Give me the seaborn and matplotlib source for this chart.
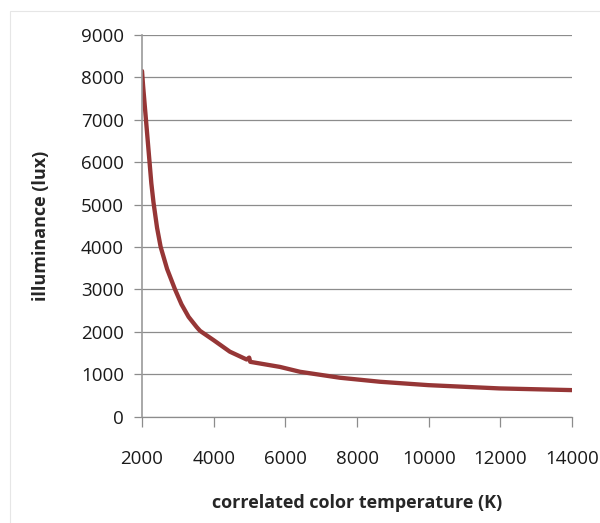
import pandas as pd
import matplotlib.pyplot as plt
import seaborn as sns
from matplotlib.patches import Rectangle

# Values
cct_k = [2000, 2030, 2060, 2130, 2200, 2260, 2320, 2420, 2520, 2700, 2920, 3100, 3300, 3525,
         3620, 4000, 4450, 4920, 4990, 5020, 5850, 6410, 7520, 8640, 9990, 11970, 13990]
lux = [8150, 7800, 7500, 6800, 6100, 5500, 5050, 4450, 4000, 3480, 3000, 2650, 2350, 2110,
       2020, 1800, 1530, 1345, 1390, 1290, 1170, 1055, 915, 820, 740, 663, 623]

x_ticks = [2000, 4000, 6000, 8000, 10000, 12000, 14000]
y_ticks = [0, 1000, 2000, 3000, 4000, 5000, 6000, 7000, 8000, 9000]

df = pd.DataFrame({'cct': cct_k, 'lux': lux})

sns.set_style("white")
plt.rcParams['font.family'] = ['Open Sans', 'DejaVu Sans']

fig = plt.figure(figsize=(6, 5.23), dpi=100)
ax = fig.add_axes([0.2367, 0.2036, 0.7167, 0.7295])

# faint chart-area border like Excel
fig.patches.append(Rectangle((10 / 600, -0.01), 1.0, 1 - 11 / 523 + 0.01,
                             transform=fig.transFigure, fill=False,
                             edgecolor='#e6e6e6', linewidth=0.8))

sns.lineplot(data=df, x='cct', y='lux', sort=False, color='#963636',
             linewidth=3.1, ax=ax)

ax.set_xlim(2000, 14000)
ax.set_ylim(0, 9000)
ax.set_xticks(x_ticks)
ax.set_yticks(y_ticks)
ax.yaxis.grid(True, color='#8c8c8c', linewidth=0.9)
ax.set_axisbelow(True)

for side in ['top', 'right']:
    ax.spines[side].set_visible(False)
ax.spines['left'].set_color('#9a9a9a')
ax.spines['bottom'].set_color('#8c8c8c')
ax.spines['left'].set_linewidth(1.2)
ax.spines['bottom'].set_linewidth(0.9)

ax.tick_params(axis='x', direction='out', length=7, width=0.9, color='#8c8c8c',
               pad=17, labelsize=13.5, labelcolor='#1a1a1a')
ax.tick_params(axis='y', direction='out', length=6, width=0.9, color='#8c8c8c',
               pad=7, labelsize=13.5, labelcolor='#1a1a1a')
ax.tick_params(bottom=True, left=True)

ax.set_xlabel('correlated color temperature (K)', fontsize=13, fontweight='bold')
ax.set_ylabel('illuminance (lux)', fontsize=13, fontweight='bold')
ax.xaxis.set_label_coords(0.5, -0.203)
ax.yaxis.set_label_coords(-0.215, 0.5)

fig.savefig('out.png', dpi=100)
